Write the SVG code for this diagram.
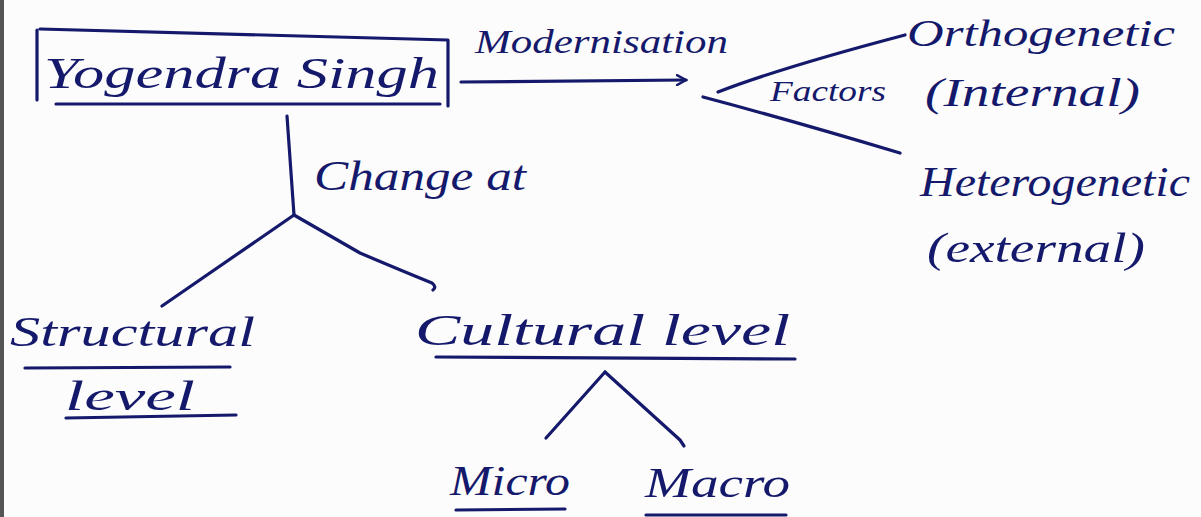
<svg xmlns="http://www.w3.org/2000/svg" width="1201" height="517" viewBox="0 0 1201 517">
<defs>
<style>
.ink{fill:none;stroke:#15196b;stroke-width:3.2;stroke-linecap:round;stroke-linejoin:round}
.t{font-family:"Liberation Serif","DejaVu Serif",serif;font-style:italic;fill:#15196b}
</style>
<marker id="arr" viewBox="0 0 12 12" refX="10" refY="6" markerWidth="12" markerHeight="12" markerUnits="userSpaceOnUse" orient="auto">
<path d="M1,1 L10,6 L1,11" fill="none" stroke="#15196b" stroke-width="2.4" stroke-linecap="round"/>
</marker>
</defs>
<rect x="0" y="0" width="1201" height="517" fill="#fcfcfc"/>
<rect x="0" y="0" width="4" height="517" fill="#555"/>
<g id="n-yogendra">
<path class="ink" d="M37,30 L37,100 M40,29 L448,40 L448,106 M56,104 L440,104"/>
<text class="t" x="44" y="88" font-size="44" textLength="395" lengthAdjust="spacingAndGlyphs">Yogendra   Singh</text>
</g>
<g id="n-modernisation">
<text class="t" x="475" y="53" font-size="34" textLength="253" lengthAdjust="spacingAndGlyphs">Modernisation</text>
</g>
<g id="n-factors">
<text class="t" x="770" y="101" font-size="30" textLength="116" lengthAdjust="spacingAndGlyphs">Factors</text>
</g>
<g id="n-orthogenetic">
<text class="t" x="907" y="46" font-size="38" textLength="268" lengthAdjust="spacingAndGlyphs">Orthogenetic</text>
<text class="t" x="925" y="106" font-size="40" textLength="215" lengthAdjust="spacingAndGlyphs">(Internal)</text>
</g>
<g id="n-heterogenetic">
<text class="t" x="920" y="196" font-size="42" textLength="270" lengthAdjust="spacingAndGlyphs">Heterogenetic</text>
<text class="t" x="927" y="262" font-size="42" textLength="218" lengthAdjust="spacingAndGlyphs">(external)</text>
</g>
<g id="n-changeat">
<text class="t" x="314" y="190" font-size="42" textLength="212" lengthAdjust="spacingAndGlyphs">Change at</text>
</g>
<g id="n-structural">
<text class="t" x="10" y="346" font-size="42" textLength="245" lengthAdjust="spacingAndGlyphs">Structural</text>
<path class="ink" d="M25,368 L230,367"/>
<text class="t" x="65" y="410" font-size="42" textLength="130" lengthAdjust="spacingAndGlyphs">level</text>
<path class="ink" d="M66,418 L236,415"/>
</g>
<g id="n-cultural">
<text class="t" x="415" y="345" font-size="44" textLength="375" lengthAdjust="spacingAndGlyphs">Cultural level</text>
<path class="ink" d="M436,357 L795,359"/>
</g>
<g id="n-micro">
<text class="t" x="450" y="495" font-size="42" textLength="120" lengthAdjust="spacingAndGlyphs">Micro</text>
<path class="ink" d="M456,510 L565,509"/>
</g>
<g id="n-macro">
<text class="t" x="645" y="497" font-size="42" textLength="145" lengthAdjust="spacingAndGlyphs">Macro</text>
<path class="ink" d="M646,515 L786,515"/>
</g>
<g id="connectors">
<path class="ink" d="M461,82 L686,80" marker-end="url(#arr)"/>
<path class="ink" d="M718,92 Q780,68 905,35"/>
<path class="ink" d="M703,97 Q790,120 900,153"/>
<path class="ink" d="M287,116 L294,215"/>
<path class="ink" d="M294,215 L162,306"/>
<path class="ink" d="M294,215 Q320,230 360,253 Q400,270 432,283 Q437,287 433,290"/>
<path class="ink" d="M605,372 L546,438"/>
<path class="ink" d="M605,372 L680,440 L684,446"/>
</g>
</svg>
